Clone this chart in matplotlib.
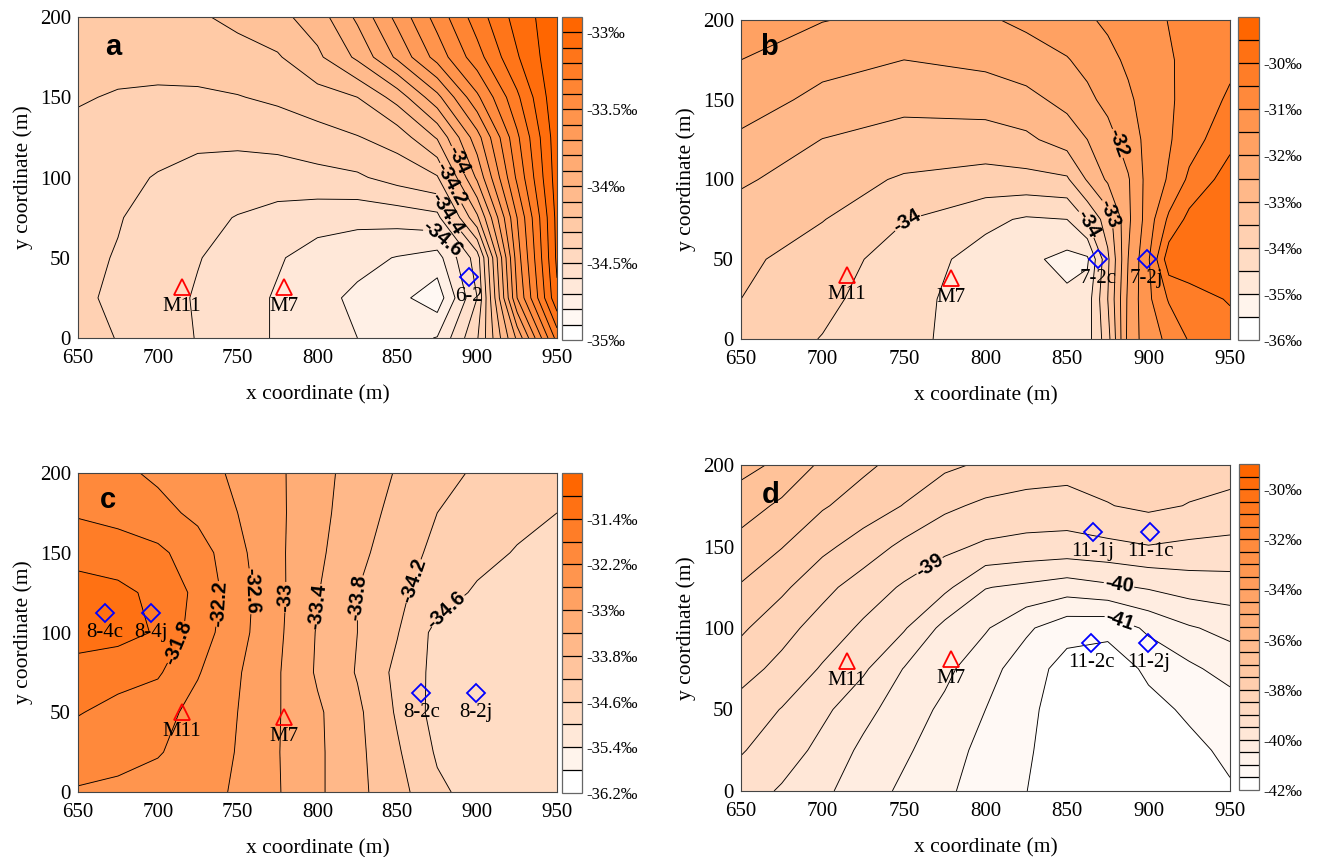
"""Four kriged isotope maps (panels a-d) with well locations."""

import matplotlib

matplotlib.use("Agg")
import matplotlib.pyplot as plt
import numpy as np
from matplotlib.colors import LinearSegmentedColormap, Normalize

plt.rcParams["font.family"] = ["Liberation Serif", "DejaVu Serif"]
plt.rcParams["contour.negative_linestyle"] = "solid"

# grid nodes (m); rows listed from y=200 (top) down to y=0
GRID_X = [650, 675, 700, 725, 750, 775, 800, 825, 850, 875, 900, 925, 950]
B_GRID_X = [650, 700, 750, 800, 825, 850, 862.5, 875, 887.5, 900, 912.5, 925, 950]
GRID_Y = [200, 175, 150, 125, 100, 75, 50, 25, 0]

A_Z = [
    [-34.26, -34.25, -34.23, -34.21, -34.18, -34.13, -34.05, -33.88, -33.67, -33.46, -33.25, -33.06, -32.93],
    [-34.27, -34.26, -34.255, -34.245, -34.23, -34.21, -34.12, -33.98, -33.78, -33.56, -33.34, -33.11, -32.92],
    [-34.29, -34.31, -34.32, -34.32, -34.305, -34.28, -34.24, -34.20, -34.06, -33.83, -33.52, -33.22, -32.92],
    [-34.33, -34.35, -34.37, -34.38, -34.38, -34.37, -34.34, -34.305, -34.26, -34.09, -33.74, -33.32, -32.94],
    [-34.36, -34.38, -34.405, -34.43, -34.44, -34.44, -34.43, -34.415, -34.36, -34.31, -33.88, -33.38, -32.95],
    [-34.37, -34.395, -34.43, -34.47, -34.505, -34.54, -34.56, -34.57, -34.56, -34.53, -34.12, -33.50, -32.97],
    [-34.38, -34.405, -34.45, -34.495, -34.54, -34.59, -34.64, -34.67, -34.705, -34.74, -34.45, -33.55, -32.98],
    [-34.39, -34.41, -34.46, -34.51, -34.56, -34.61, -34.67, -34.72, -34.77, -34.86, -34.50, -33.60, -33.02],
    [-34.35, -34.405, -34.45, -34.505, -34.56, -34.61, -34.655, -34.70, -34.745, -34.695, -34.41, -33.88, -33.26],
]

B_Z = [
    [-31.85, -31.98, -32.15, -32.06, -31.9, -31.7, -31.56, -31.42, -31.26, -31.1, -30.99, -30.9, -30.8],
    [-32.0, -32.35, -32.5, -32.38, -32.22, -32.03, -31.85, -31.63, -31.42, -31.25, -31.03, -30.92, -30.62],
    [-32.28, -32.62, -32.83, -32.78, -32.65, -32.35, -32.12, -31.85, -31.58, -31.3, -31.06, -30.85, -30.42],
    [-32.58, -33.01, -33.22, -33.22, -33.1, -32.78, -32.5, -32.2, -31.75, -31.35, -31.05, -30.72, -30.15],
    [-32.92, -33.3, -33.55, -33.68, -33.65, -33.57, -32.95, -32.42, -32.05, -31.3, -30.95, -30.4, -29.75],
    [-33.25, -33.48, -33.98, -34.38, -34.56, -34.5, -33.95, -33.25, -32.1, -31.25, -30.4, -29.85, -29.62],
    [-33.38, -33.77, -34.22, -34.7, -34.88, -35.15, -35.08, -33.6, -32.0, -31.05, -29.7, -29.62, -29.6],
    [-33.5, -33.87, -34.35, -34.72, -34.86, -34.9, -34.75, -33.5, -31.9, -31.1, -30.45, -30.25, -29.95],
    [-33.68, -34.02, -34.4, -34.68, -34.78, -34.8, -34.7, -33.7, -31.85, -31.2, -30.9, -30.45, -30.25],
]

C_Z = [
    [-32.02, -32.1, -32.28, -32.45, -32.67, -32.93, -33.26, -33.57, -33.83, -34.05, -34.26, -34.4, -34.5],
    [-31.84, -31.92, -32.06, -32.3, -32.6, -32.92, -33.28, -33.62, -33.92, -34.2, -34.35, -34.48, -34.6],
    [-31.55, -31.62, -31.72, -32.0, -32.5, -32.92, -33.32, -33.69, -34.03, -34.29, -34.46, -34.63, -34.75],
    [-31.22, -31.3, -31.5, -31.9, -32.43, -32.9, -33.38, -33.8, -34.12, -34.4, -34.66, -34.8, -34.88],
    [-31.18, -31.25, -31.44, -32.0, -32.46, -32.92, -33.43, -33.8, -34.18, -34.72, -34.82, -34.88, -34.92],
    [-31.6, -31.68, -31.75, -32.17, -32.56, -32.96, -33.45, -33.83, -34.3, -34.72, -34.82, -34.86, -34.88],
    [-31.78, -31.9, -32.05, -32.33, -32.6, -32.97, -33.34, -33.72, -34.25, -34.75, -34.84, -34.87, -34.88],
    [-31.98, -32.05, -32.17, -32.38, -32.62, -32.98, -33.33, -33.7, -34.15, -34.65, -34.8, -34.85, -34.88],
    [-32.24, -32.3, -32.37, -32.48, -32.64, -32.97, -33.33, -33.7, -34.05, -34.52, -34.75, -34.83, -34.87],
]

D_Z = [
    [-36.35, -36.6, -37.1, -37.4, -37.67, -37.9, -38.08, -38.2, -38.28, -38.3, -38.32, -38.3, -38.32],
    [-36.75, -37.1, -37.45, -37.73, -38.02, -38.4, -38.6, -38.7, -38.72, -38.52, -38.4, -38.52, -38.62],
    [-37.2, -37.48, -37.88, -38.22, -38.62, -38.88, -39.08, -39.15, -39.18, -39.12, -39.02, -39.1, -39.15],
    [-37.54, -37.9, -38.35, -38.74, -39.06, -39.38, -39.98, -40.1, -40.25, -40.1, -39.95, -39.78, -39.72],
    [-37.92, -38.32, -38.72, -39.08, -39.45, -40.15, -40.45, -40.92, -41.3, -41.35, -40.9, -40.55, -40.35],
    [-38.3, -38.65, -39.05, -39.42, -40.02, -40.38, -40.82, -41.25, -41.7, -41.8, -41.4, -41.1, -40.8],
    [-38.7, -39.02, -39.38, -39.85, -40.25, -40.6, -41.0, -41.36, -41.8, -41.85, -41.65, -41.42, -41.25],
    [-38.97, -39.2, -39.67, -40.1, -40.42, -40.77, -41.16, -41.42, -41.85, -41.9, -41.85, -41.62, -41.4],
    [-39.2, -39.57, -39.9, -40.25, -40.6, -40.9, -41.25, -41.49, -41.9, -41.95, -41.9, -41.75, -41.55],
]

# contour / colour-bar levels: (lowest, highest, step)
A_LEVELS = (-35.0, -32.9, 0.1)
B_LEVELS = (-36.0, -29.0, 0.5)
C_LEVELS = (-36.2, -30.6, 0.4)
D_LEVELS = (-42.0, -29.0, 0.5)

A_TICKS = [-35, -34.5, -34, -33.5, -33]
B_TICKS = [-36, -35, -34, -33, -32, -31, -30]
C_TICKS = [-36.2, -35.4, -34.6, -33.8, -33, -32.2, -31.4]
D_TICKS = [-42, -40, -38, -36, -34, -32, -30]

# labelled contours: value and where the label sits (x, y in m)
A_CLABELS = [(-34.0, 886, 110), (-34.2, 879, 94), (-34.4, 880, 77), (-34.6, 878, 62)]
B_CLABELS = [(-32.0, 885, 124), (-33.0, 877, 79), (-34.0, 862, 72), (-34.0, 751, 75)]
C_CLABELS = [(-31.8, 714, 93), (-32.2, 738, 118), (-32.6, 760, 126), (-33.0, 781, 122),
             (-33.4, 801, 116), (-33.8, 825, 122), (-34.2, 858, 133), (-34.6, 881, 114)]
D_CLABELS = [(-39.0, 764, 141), (-40.0, 882, 127), (-41.0, 882, 104)]

# sampling points: name, x (m), y (m)
A_MONITOR = [("M11", 715, 32), ("M7", 779, 32)]
A_WELLS = [("6-2", 895, 38)]
B_MONITOR = [("M11", 715, 40), ("M7", 779, 38)]
B_WELLS = [("7-2c", 869, 50), ("7-2j", 899, 50)]
C_MONITOR = [("M11", 715, 50), ("M7", 779, 47)]
C_WELLS = [("8-4c", 667, 112), ("8-4j", 696, 112), ("8-2c", 865, 62), ("8-2j", 899, 62)]
D_MONITOR = [("M11", 715, 80), ("M7", 779, 81)]
D_WELLS = [("11-1j", 866, 159), ("11-1c", 901, 159), ("11-2c", 865, 91), ("11-2j", 900, 91)]

W, H = 1317, 857
CMAP = LinearSegmentedColormap.from_list("white_orange", ["#ffffff", "#ff6600"])
SANS = ["Liberation Sans", "DejaVu Sans"]
LINE_W = 0.65


def px_rect(left, top, right, bottom):
    return [left / W, 1 - bottom / H, (right - left) / W, (bottom - top) / H]


def draw_panel(fig, ax_box, cb_box, gx, z, lev, ticks, clabels, monitor, wells,
               letter, letter_xy):
    ax = fig.add_axes(px_rect(*ax_box))
    cax = fig.add_axes(px_rect(*cb_box))
    lo, hi, step = lev
    levels = np.round(np.arange(lo, hi + step / 2, step), 3)
    norm = Normalize(vmin=lo + step / 2, vmax=hi - step / 2)
    zz = np.asarray(z, dtype=float)

    cf = ax.contourf(gx, GRID_Y, zz, levels=levels, cmap=CMAP, norm=norm)
    label_vals = sorted({v for v, _, _ in clabels})
    plain = [lv for lv in levels if lv not in label_vals]
    ax.contour(gx, GRID_Y, zz, levels=plain, colors="k", linewidths=LINE_W,
               linestyles="solid")
    cs = ax.contour(gx, GRID_Y, zz, levels=label_vals, colors="k", linewidths=LINE_W,
                    linestyles="solid")
    texts = ax.clabel(
        cs,
        manual=[(x, y) for _, x, y in clabels],
        inline=True,
        inline_spacing=2,
        fmt=lambda v: f"{v:g}",
        fontsize=14.5,
    )
    for t in texts:
        t.set_fontfamily(SANS)
        t.set_fontweight("bold")

    for name, x, y in monitor:
        ax.plot(x, y, marker="^", ms=11, mfc="none", mec="red", mew=1.3, ls="none")
        ax.annotate(name, (x, y), xytext=(0, -14), textcoords="offset points",
                    ha="center", va="center", fontsize=15)
    for name, x, y in wells:
        ax.plot(x, y, marker="D", ms=9, mfc="none", mec="blue", mew=1.3, ls="none")
        ax.annotate(name, (x, y), xytext=(0, -14), textcoords="offset points",
                    ha="center", va="center", fontsize=15)

    ax.text(*letter_xy, letter, transform=ax.transAxes, fontsize=21,
            fontweight="bold", family=SANS, ha="center", va="center")
    ax.set_xlim(650, 950)
    ax.set_ylim(0, 200)
    ax.set_xticks(range(650, 951, 50))
    ax.set_yticks(range(0, 201, 50))
    ax.tick_params(length=0, labelsize=15)
    ax.tick_params(axis="x", pad=8)
    ax.tick_params(axis="y", pad=5)
    ax.set_xlabel("x coordinate (m)", fontsize=15.5, labelpad=12)
    ax.set_ylabel("y coordinate (m)", fontsize=15.5, labelpad=5)
    for sp in ax.spines.values():
        sp.set_linewidth(0.8)
        sp.set_color("#444444")

    cb = fig.colorbar(cf, cax=cax, ticks=ticks, drawedges=True)
    cb.dividers.set_color("k")
    cb.dividers.set_linewidth(0.9)
    cb.outline.set_edgecolor("#666666")
    cb.outline.set_linewidth(0.9)
    cb.ax.tick_params(length=0, labelsize=12, pad=3)
    cb.ax.set_yticklabels([f"{t:g}\u2030" for t in ticks])
    return ax


fig = plt.figure(figsize=(W / 100, H / 100), dpi=100)
draw_panel(fig, (78, 17, 557, 338), (562, 17, 582, 340), GRID_X, A_Z, A_LEVELS, A_TICKS,
           A_CLABELS, A_MONITOR, A_WELLS, "a", (0.073, 0.906))
draw_panel(fig, (741, 20, 1230, 339), (1238, 17, 1259, 340), B_GRID_X, B_Z, B_LEVELS, B_TICKS,
           B_CLABELS, B_MONITOR, B_WELLS, "b", (0.057, 0.915))
draw_panel(fig, (78, 473, 557, 792), (562, 473, 582, 793), GRID_X, C_Z, C_LEVELS, C_TICKS,
           C_CLABELS, C_MONITOR, C_WELLS, "c", (0.063, 0.915))
draw_panel(fig, (741, 465, 1230, 791), (1239, 464, 1259, 790), GRID_X, D_Z, D_LEVELS, D_TICKS,
           D_CLABELS, D_MONITOR, D_WELLS, "d", (0.061, 0.908))

fig.savefig("out.png", dpi=100)
